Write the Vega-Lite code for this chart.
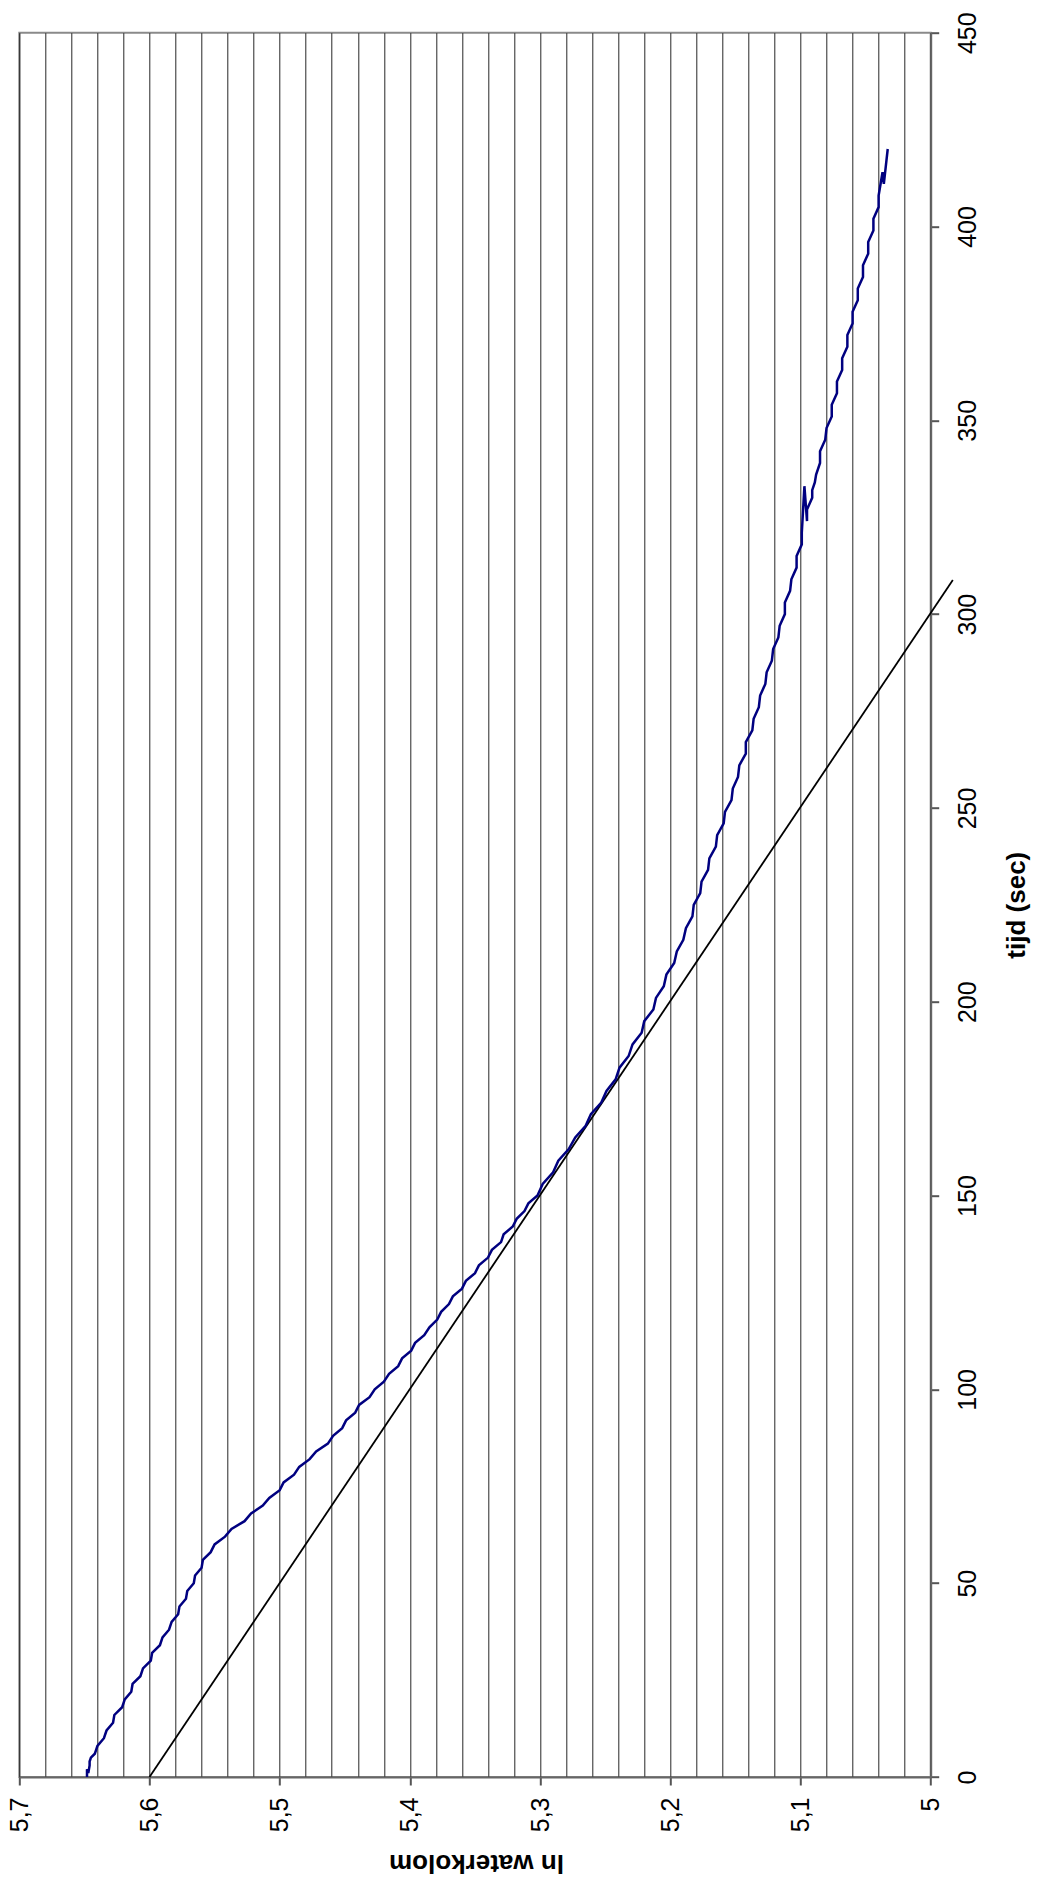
{
  "$schema": "https://vega.github.io/schema/vega-lite/v6.json",
  "width": 911.4,
  "height": 1744.3,
  "autosize": {"type": "none"},
  "padding": {"left": 19.3, "top": 32.7, "right": 106.3, "bottom": 110},
  "background": "white",
  "config": {
    "view": {"stroke": "#8a8a8a", "strokeWidth": 2},
    "font": "Liberation Sans"
  },
  "datasets": {
    "curve": [
      {"t": 0, "ln": 5.648}, {"t": 1, "ln": 5.647}, {"t": 2, "ln": 5.648}, {"t": 3, "ln": 5.646}, {"t": 4, "ln": 5.646},
      {"t": 5, "ln": 5.645}, {"t": 6, "ln": 5.642}, {"t": 7, "ln": 5.641}, {"t": 8, "ln": 5.64}, {"t": 10, "ln": 5.635},
      {"t": 12, "ln": 5.633}, {"t": 14, "ln": 5.628}, {"t": 16, "ln": 5.627}, {"t": 18, "ln": 5.621}, {"t": 20, "ln": 5.619},
      {"t": 22, "ln": 5.614}, {"t": 24, "ln": 5.613}, {"t": 26, "ln": 5.607}, {"t": 28, "ln": 5.605}, {"t": 30, "ln": 5.599},
      {"t": 32, "ln": 5.598}, {"t": 34, "ln": 5.592}, {"t": 36, "ln": 5.59}, {"t": 38, "ln": 5.585}, {"t": 40, "ln": 5.583},
      {"t": 42, "ln": 5.578}, {"t": 44, "ln": 5.577}, {"t": 46, "ln": 5.572}, {"t": 48, "ln": 5.571}, {"t": 50, "ln": 5.566},
      {"t": 52, "ln": 5.565}, {"t": 54, "ln": 5.56}, {"t": 56, "ln": 5.559}, {"t": 58, "ln": 5.553}, {"t": 60, "ln": 5.55},
      {"t": 62, "ln": 5.542}, {"t": 64, "ln": 5.537}, {"t": 66, "ln": 5.527}, {"t": 68, "ln": 5.522}, {"t": 70, "ln": 5.513},
      {"t": 72, "ln": 5.508}, {"t": 74, "ln": 5.5}, {"t": 76, "ln": 5.497}, {"t": 78, "ln": 5.489}, {"t": 80, "ln": 5.485},
      {"t": 82, "ln": 5.477}, {"t": 84, "ln": 5.472}, {"t": 86, "ln": 5.463}, {"t": 88, "ln": 5.459}, {"t": 90, "ln": 5.452},
      {"t": 92, "ln": 5.449}, {"t": 94, "ln": 5.442}, {"t": 96, "ln": 5.439}, {"t": 98, "ln": 5.431}, {"t": 100, "ln": 5.427},
      {"t": 102, "ln": 5.42}, {"t": 104, "ln": 5.416}, {"t": 106, "ln": 5.409}, {"t": 108, "ln": 5.406}, {"t": 110, "ln": 5.399},
      {"t": 112, "ln": 5.396}, {"t": 114, "ln": 5.389}, {"t": 116, "ln": 5.385}, {"t": 118, "ln": 5.379}, {"t": 120, "ln": 5.376},
      {"t": 122, "ln": 5.37}, {"t": 124, "ln": 5.367}, {"t": 126, "ln": 5.36}, {"t": 128, "ln": 5.357}, {"t": 130, "ln": 5.35},
      {"t": 132, "ln": 5.347}, {"t": 134, "ln": 5.34}, {"t": 136, "ln": 5.337}, {"t": 138, "ln": 5.33}, {"t": 140, "ln": 5.328},
      {"t": 142, "ln": 5.321}, {"t": 144, "ln": 5.318}, {"t": 146, "ln": 5.312}, {"t": 148, "ln": 5.309}, {"t": 150, "ln": 5.302},
      {"t": 153, "ln": 5.298}, {"t": 156, "ln": 5.29}, {"t": 159, "ln": 5.286}, {"t": 162, "ln": 5.278}, {"t": 165, "ln": 5.273},
      {"t": 168, "ln": 5.265}, {"t": 171, "ln": 5.261}, {"t": 174, "ln": 5.253}, {"t": 177, "ln": 5.249}, {"t": 180, "ln": 5.242},
      {"t": 183, "ln": 5.239}, {"t": 186, "ln": 5.232}, {"t": 189, "ln": 5.229}, {"t": 192, "ln": 5.222}, {"t": 195, "ln": 5.22},
      {"t": 198, "ln": 5.213}, {"t": 201, "ln": 5.211}, {"t": 204, "ln": 5.205}, {"t": 207, "ln": 5.203}, {"t": 210, "ln": 5.197},
      {"t": 213, "ln": 5.195}, {"t": 216, "ln": 5.19}, {"t": 219, "ln": 5.188}, {"t": 222, "ln": 5.183}, {"t": 225, "ln": 5.182},
      {"t": 228, "ln": 5.177}, {"t": 231, "ln": 5.176}, {"t": 234, "ln": 5.171}, {"t": 237, "ln": 5.17}, {"t": 240, "ln": 5.165},
      {"t": 243, "ln": 5.164}, {"t": 246, "ln": 5.159}, {"t": 249, "ln": 5.158}, {"t": 252, "ln": 5.153}, {"t": 255, "ln": 5.152},
      {"t": 258, "ln": 5.148}, {"t": 261, "ln": 5.147}, {"t": 264, "ln": 5.142}, {"t": 267, "ln": 5.142}, {"t": 270, "ln": 5.137},
      {"t": 273, "ln": 5.136}, {"t": 276, "ln": 5.132}, {"t": 279, "ln": 5.131}, {"t": 282, "ln": 5.127}, {"t": 285, "ln": 5.126},
      {"t": 288, "ln": 5.122}, {"t": 291, "ln": 5.121}, {"t": 294, "ln": 5.117}, {"t": 297, "ln": 5.116}, {"t": 300, "ln": 5.112},
      {"t": 303, "ln": 5.112}, {"t": 306, "ln": 5.108}, {"t": 309, "ln": 5.107}, {"t": 312, "ln": 5.103}, {"t": 315, "ln": 5.103},
      {"t": 318, "ln": 5.099}, {"t": 321, "ln": 5.099}, {"t": 324, "ln": 5.095}, {"t": 327, "ln": 5.095}, {"t": 330, "ln": 5.091},
      {"t": 332, "ln": 5.091}, {"t": 333, "ln": 5.097}, {"t": 334, "ln": 5.089}, {"t": 336, "ln": 5.088}, {"t": 339, "ln": 5.085},
      {"t": 342, "ln": 5.085}, {"t": 345, "ln": 5.081}, {"t": 348, "ln": 5.08}, {"t": 351, "ln": 5.076}, {"t": 354, "ln": 5.076},
      {"t": 357, "ln": 5.072}, {"t": 360, "ln": 5.072}, {"t": 363, "ln": 5.068}, {"t": 366, "ln": 5.068}, {"t": 369, "ln": 5.064},
      {"t": 372, "ln": 5.064}, {"t": 375, "ln": 5.06}, {"t": 378, "ln": 5.06}, {"t": 381, "ln": 5.056}, {"t": 384, "ln": 5.056},
      {"t": 387, "ln": 5.052}, {"t": 390, "ln": 5.052}, {"t": 393, "ln": 5.048}, {"t": 396, "ln": 5.048}, {"t": 399, "ln": 5.044},
      {"t": 402, "ln": 5.044}, {"t": 405, "ln": 5.04}, {"t": 408, "ln": 5.04}, {"t": 411, "ln": 5.036}, {"t": 414, "ln": 5.037},
      {"t": 417, "ln": 5.034}, {"t": 420, "ln": 5.033}
    ],
    "fit": [
      {"t": 0, "ln": 5.6},
      {"t": 308.8, "ln": 4.983}
    ]
  },
  "layer": [
    {
      "data": {"name": "fit"},
      "mark": {"type": "line", "color": "#000000", "strokeWidth": 1.8},
      "encoding": {
        "x": {"field": "ln", "type": "quantitative"},
        "y": {"field": "t", "type": "quantitative"}
      }
    },
    {
      "data": {"name": "curve"},
      "mark": {"type": "line", "color": "#000080", "strokeWidth": 2.5},
      "encoding": {
        "x": {
          "field": "ln",
          "type": "quantitative",
          "scale": {"domain": [5, 5.7], "reverse": true, "nice": false, "zero": false},
          "axis": {
            "title": "ln waterkolom",
            "tickCount": 200,
            "values": [5, 5.02, 5.04, 5.06, 5.08, 5.1, 5.12, 5.14, 5.16, 5.18, 5.2, 5.22, 5.24, 5.26, 5.28, 5.3, 5.32, 5.34, 5.36, 5.38, 5.4, 5.42, 5.44, 5.46, 5.48, 5.5, 5.52, 5.54, 5.56, 5.58, 5.6, 5.62, 5.64, 5.66, 5.68, 5.7],
            "grid": true,
            "gridColor": "#000000",
            "gridWidth": 1,
            "gridOpacity": 0.85,
            "labelExpr": "abs(datum.value*10 - round(datum.value*10)) < 0.001 ? (abs(datum.value - 5) < 0.001 ? '5' : replace(format(datum.value, '.1f'), '.', ',')) : ''",
            "labelAngle": -90,
            "labelAlign": "right",
            "labelBaseline": "middle",
            "labelFont": "Liberation Sans",
            "labelFontSize": 25,
            "labelColor": "#000000",
            "labelPadding": 12,
            "labelOverlap": false,
            "labelFlush": false,
            "tickSize": 8,
            "tickColor": "#555555",
            "tickWidth": 2,
            "tickOpacity": {"condition": {"test": "abs(datum.value*10 - round(datum.value*10)) < 0.001", "value": 1}, "value": 0},
            "domainColor": "#666666",
            "domainWidth": 2,
            "titleFont": "Liberation Sans",
            "titleFontSize": 26,
            "titleFontWeight": "bold",
            "titleColor": "#000000",
            "titleAngle": 180,
            "titleAlign": "center",
            "titleBaseline": "middle",
            "titleX": 456.7,
            "titleY": 85
          }
        },
        "y": {
          "field": "t",
          "type": "quantitative",
          "scale": {"domain": [0, 450], "nice": false, "zero": false},
          "axis": {
            "title": "tijd (sec)",
            "orient": "right",
            "tickCount": 200,
            "values": [0, 50, 100, 150, 200, 250, 300, 350, 400, 450],
            "grid": false,
            "labelAngle": -90,
            "labelAlign": "center",
            "labelBaseline": "top",
            "labelFont": "Liberation Sans",
            "labelFontSize": 25,
            "labelColor": "#000000",
            "labelPadding": 17,
            "labelOverlap": false,
            "labelFlush": false,
            "tickSize": 8,
            "tickColor": "#555555",
            "tickWidth": 2,
            "domainColor": "#666666",
            "domainWidth": 2,
            "titleFont": "Liberation Sans",
            "titleFontSize": 26,
            "titleFontWeight": "bold",
            "titleColor": "#000000",
            "titleAngle": -90,
            "titleAlign": "center",
            "titleBaseline": "middle",
            "titleX": 86,
            "titleY": 872
          }
        }
      }
    }
  ]
}
